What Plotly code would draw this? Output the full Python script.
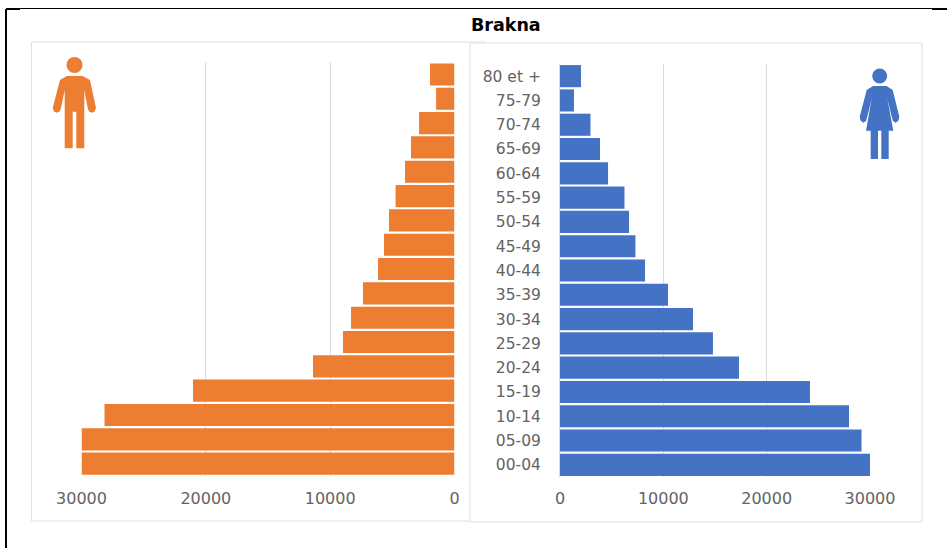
import plotly.graph_objects as go

W, H = 947, 548
title = "Brakna"
ages = ["00-04", "05-09", "10-14", "15-19", "20-24", "25-29", "30-34", "35-39", "40-44",
        "45-49", "50-54", "55-59", "60-64", "65-69", "70-74", "75-79", "80 et +"]
hommes = [30000, 30000, 28150, 21030, 11380, 8970, 8320, 7360, 6150,
          5670, 5270, 4740, 3980, 3500, 2850, 1480, 1970]
femmes = [30000, 29180, 27970, 24190, 17320, 14800, 12870, 10450, 8230,
          7300, 6680, 6240, 4650, 3870, 2950, 1350, 2030]
ticks = [0, 10000, 20000, 30000]
ORANGE, BLUE, GRID, TXT = "#ED7D31", "#4472C4", "#DCDCDC", "#636363"
FONT = "DejaVu Sans"

def px(x): return x / W
def py(y): return 1 - y / H

def path(points):
    return "M" + " L".join(f"{px(x):.5f},{py(y):.5f}" for x, y in points) + " Z"

man = [(60, 80), (66.7, 76), (82.5, 76), (90, 80), (96, 108), (94.5, 111.5), (91.7, 112.7), (89, 111.5), (87.7, 108),
       (84.3, 90), (84.3, 148.3), (76.3, 148.3), (76.3, 111.7), (72.7, 111.7), (72.7, 148.3),
       (64.7, 148.3), (64.7, 90), (61, 108), (59.7, 111.5), (56.7, 112.7), (54, 111.5), (52.7, 108)]
woman = [(866.7, 90), (873, 86), (886.5, 86), (892.7, 90), (899.3, 116.7), (898.5, 120.5), (895.7, 122.7), (893, 121), (891.7, 116.7),
         (887.3, 98.3), (893.3, 130.7), (888.7, 130.7), (888.7, 159), (881.3, 159), (881.3, 130.7), (878, 130.7), (878, 159),
         (870.7, 159), (870.7, 130.7), (866, 130.7), (871.7, 98.3), (867.3, 116.7), (866, 121), (863.3, 122.7), (860.5, 120.5), (859.7, 116.7)]

def card(x0, y0, x1, y1):
    return dict(type="rect", xref="paper", yref="paper", x0=px(x0), x1=px(x1), y0=py(y1), y1=py(y0),
                fillcolor="white", line=dict(color="#E0E0E0", width=1), layer="below")

def line(x0, y0, x1, y1, w):
    return dict(type="line", xref="paper", yref="paper", x0=px(x0), x1=px(x1), y0=py(y0), y1=py(y1),
                line=dict(color="black", width=w), layer="above")

def icon(points, color):
    return dict(type="path", xref="paper", yref="paper", path=path(points), fillcolor=color,
                line=dict(color=color, width=0), layer="above")

def head(cx, cy, r, color):
    return dict(type="circle", xref="paper", yref="paper", x0=px(cx - r), x1=px(cx + r), y0=py(cy + r), y1=py(cy - r),
                fillcolor=color, line=dict(color=color, width=0), layer="above")

fig = go.Figure()
fig.add_bar(y=ages, x=hommes, orientation="h", marker=dict(color=ORANGE, line_width=0), xaxis="x", yaxis="y", showlegend=False)
fig.add_bar(y=ages, x=femmes, orientation="h", marker=dict(color=BLUE, line_width=0), xaxis="x2", yaxis="y2", showlegend=False)

xcommon = dict(tickvals=ticks, tickformat="d", showgrid=True, gridcolor=GRID, gridwidth=1.4, zeroline=False, showline=False,
               ticks="", tickfont=dict(family=FONT, size=16, color=TXT))

fig.update_layout(
    width=W, height=H, margin=dict(l=0, r=0, t=0, b=0, autoexpand=False), paper_bgcolor="white", plot_bgcolor="rgba(0,0,0,0)",
    bargap=0.09,
    xaxis=dict(domain=[px(81.5), px(454.5)], range=[30000, 0], anchor="y", ticklabelstandoff=11, **xcommon),
    xaxis2=dict(domain=[px(560), px(870)], range=[0, 30000], anchor="y2", ticklabelstandoff=10, **xcommon),
    yaxis=dict(type="category", domain=[py(475.8), py(62.3)], anchor="x", showticklabels=False, showgrid=False, zeroline=False,
               showline=False, ticks="", categoryorder="array", categoryarray=ages),
    yaxis2=dict(type="category", domain=[py(477), py(64)], anchor="x2", showgrid=False, zeroline=False, showline=True, linecolor=GRID,
                linewidth=1, ticks="", ticklabelstandoff=15, tickfont=dict(family=FONT, size=15.5, color=TXT),
                categoryorder="array", categoryarray=ages),
    shapes=[card(31.5, 42, 485, 521), card(470, 43, 922, 522),
            line(6, 9, 6, 548, 2), line(6, 8.5, 947, 8.5, 1), line(6, 9, 20, 9, 2), line(932, 9, 947, 9, 2),
            icon(man, ORANGE), head(74.5, 65, 8, ORANGE), icon(woman, BLUE), head(879.7, 76, 7.5, BLUE)],
    annotations=[dict(text=f"<b>{title}</b>", xref="paper", yref="paper", x=px(505.5), y=py(25), xanchor="center",
                      yanchor="middle", showarrow=False, font=dict(family=FONT, size=17.5, color="black"))],
)
fig.write_html("out.html", config=dict(displayModeBar=False), post_script="document.body.style.margin='0';")
